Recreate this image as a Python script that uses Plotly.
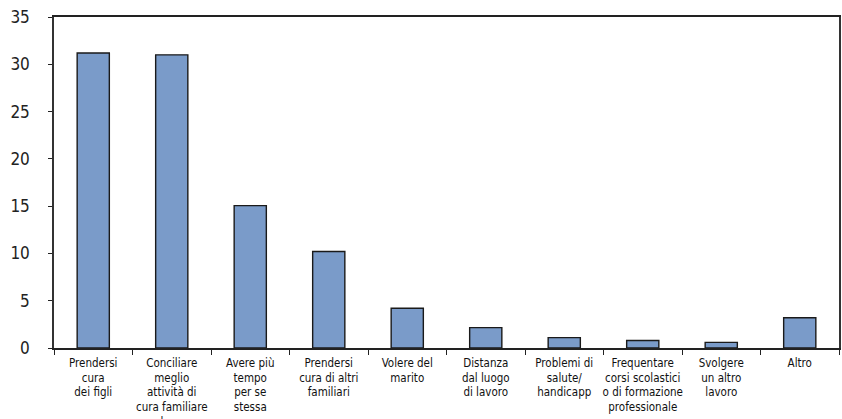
import plotly.graph_objects as go

categories = [
    "Prendersi cura dei figli",
    "Conciliare meglio attività di cura familiare e lavoro",
    "Avere più tempo per se stessa",
    "Prendersi cura di altri familiari",
    "Volere del marito",
    "Distanza dal luogo di lavoro",
    "Problemi di salute/ handicapp",
    "Frequentare corsi scolastici o di formazione professionale",
    "Svolgere un altro lavoro",
    "Altro",
]
tick_labels = [
    "Prendersi<br>cura<br>dei figli",
    "Conciliare<br>meglio<br>attività di<br>cura familiare<br>e lavoro",
    "Avere più<br>tempo<br>per se<br>stessa",
    "Prendersi<br>cura di altri<br>familiari",
    "Volere del<br>marito",
    "Distanza<br>dal luogo<br>di lavoro",
    "Problemi di<br>salute/<br>handicapp",
    "Frequentare<br>corsi scolastici<br>o di formazione<br>professionale",
    "Svolgere<br>un altro<br>lavoro",
    "Altro",
]
values = [31.2, 31.0, 15.05, 10.2, 4.2, 2.15, 1.1, 0.8, 0.6, 3.2]
y_ticks = [0, 5, 10, 15, 20, 25, 30, 35]

fig = go.Figure(go.Bar(
    x=categories, y=values, width=0.41,
    marker=dict(color="#7a9bc9", line=dict(color="#1a1a1a", width=1.4)),
))

fig.update_layout(
    width=842, height=419,
    margin=dict(l=54, r=3, t=17, b=71, autoexpand=False),
    paper_bgcolor="white", plot_bgcolor="white",
    showlegend=False,
    bargap=0.59,
)
fig.update_xaxes(
    type="category", tickvals=categories, ticktext=tick_labels, tickangle=0,
    ticks="outside", tickson="boundaries",
    ticklen=5, tickcolor="#222", tickwidth=1, automargin=False,
    showline=True, linecolor="#222", linewidth=1.5, mirror=True,
    showgrid=False, ticklabelstandoff=3,
    tickfont=dict(family="DejaVu Sans Condensed, Liberation Sans Narrow, sans-serif",
                  size=11.5, color="#111"),
)
fig.update_yaxes(
    range=[0, 35], tickvals=y_ticks, ticks="outside", ticklen=4, tickcolor="#222",
    showline=True, linecolor="#333", linewidth=1.5, mirror=True, automargin=False,
    showgrid=False, zeroline=False, ticklabelstandoff=15,
    tickfont=dict(family="DejaVu Sans Condensed, DejaVu Sans, sans-serif", size=17, color="#222"),
)
fig.write_html("out.html", config={"displayModeBar": False},
               post_script="document.body.style.margin='0';document.body.style.overflow='hidden';")
